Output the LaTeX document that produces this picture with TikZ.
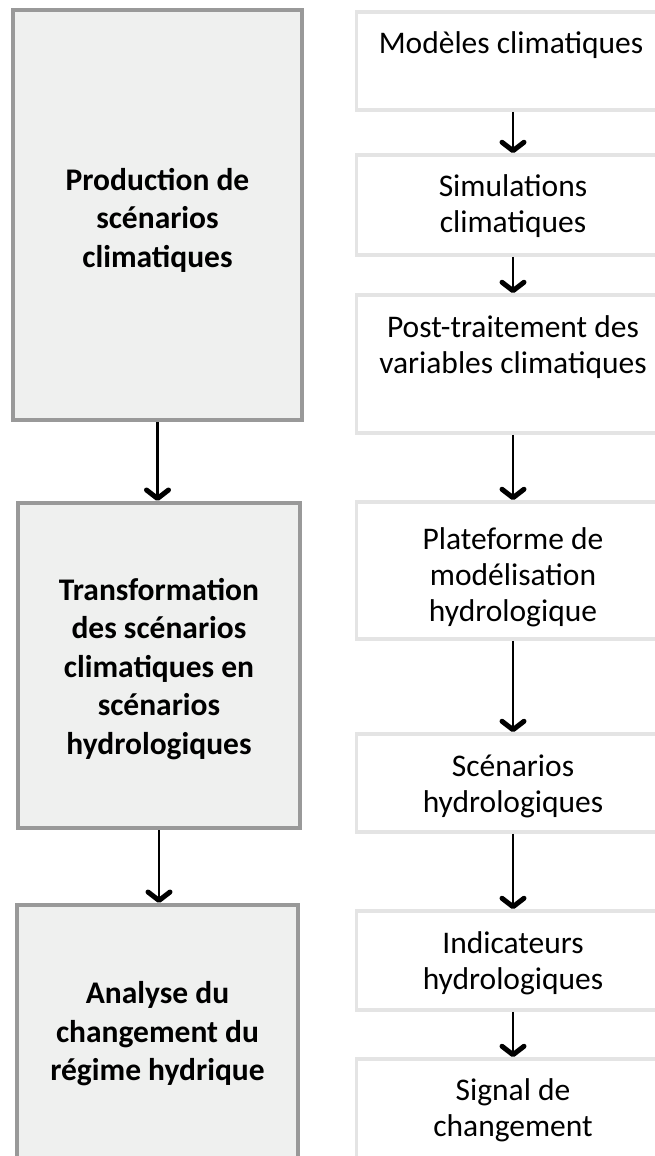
\documentclass[tikz,border=0pt]{standalone}
\usepackage{fontspec}
\setmainfont{Carlito}

\definecolor{phasefill}{HTML}{EFF0EF}
\definecolor{phaseline}{HTML}{999999}
\definecolor{stepline}{HTML}{E4E4E4}

\tikzset{
  phase/.style={draw=phaseline, fill=phasefill, line width=4pt, inner sep=0pt},
  phasetext/.style={align=center, inner sep=0pt, font=\bfseries\fontsize{31.5}{38.5}\selectfont},
  stepbox/.style={draw=stepline, fill=white, line width=3.5pt, inner sep=0pt,
    minimum width=313.5pt},
  steptext/.style={align=center, inner sep=0pt, font=\fontsize{31.5}{36}\selectfont},
  flow/.style={line width=2.4pt},
  chev/.style={line width=5pt, line join=round, line cap=round}
}

\begin{document}
\begin{tikzpicture}[x=1pt,y=-1pt]
\clip (0,0) rectangle (655,1156);

% left column: phases
\node [phase, minimum width=289pt, minimum height=410pt] (prod)  at (157.5,215)  {};
\node [phase, minimum width=282pt, minimum height=325pt] (trans) at (159,665.5)  {};
\node [phase, minimum width=281pt, minimum height=258pt] (ana)   at (157.5,1034) {};

\node [phasetext] (prodtxt)  at (157.5,220)  {Production de\\scénarios\\climatiques};
\node [phasetext] (transtxt) at (159,669)    {Transformation\\des scénarios\\climatiques en\\scénarios\\hydrologiques};
\node [phasetext] (anatxt)   at (157.5,1034) {Analyse du\\changement du\\régime hydrique};

% right column: steps
\node [stepbox, minimum height=98pt]  (mod)  at (513,61)    {};
\node [stepbox, minimum height=100pt] (sim)  at (513,205)   {};
\node [stepbox, minimum height=138pt] (post) at (513,364)   {};
\node [stepbox, minimum height=137pt] (plat) at (513,570.5) {};
\node [stepbox, minimum height=98pt]  (scen) at (513,783)   {};
\node [stepbox, minimum height=99pt]  (ind)  at (513,960.5) {};
\node [stepbox, minimum height=99pt]  (sig)  at (513,1108.5){};

\node [steptext] (modtxt)  at (511,45)    {Modèles climatiques};
\node [steptext] (simtxt)  at (513,206)   {Simulations\\climatiques};
\node [steptext] (posttxt) at (513,347.5) {Post-traitement des\\variables climatiques};
\node [steptext] (plattxt) at (513,577.5) {Plateforme de\\modélisation\\hydrologique};
\node [steptext] (scentxt) at (513,786.5) {Scénarios\\hydrologiques};
\node [steptext] (indtxt)  at (513,963.5) {Indicateurs\\hydrologiques};
\node [steptext] (sigtxt)  at (513,1110.5){Signal de\\changement};

% connectors, with open chevron heads
\foreach \a/\b in {prod/trans, trans/ana, mod/sim, sim/post, post/plat, plat/scen, scen/ind, ind/sig} {
  \coordinate (tip) at (\a.south |- \b.north);
  \draw [flow] (\a.south) -- ([shift={(0,-3)}]tip);
  \draw [chev] ([shift={(-11,-11)}]tip) -- ([shift={(0,-2.5)}]tip) -- ([shift={(11,-11)}]tip);
}
\end{tikzpicture}
\end{document}
